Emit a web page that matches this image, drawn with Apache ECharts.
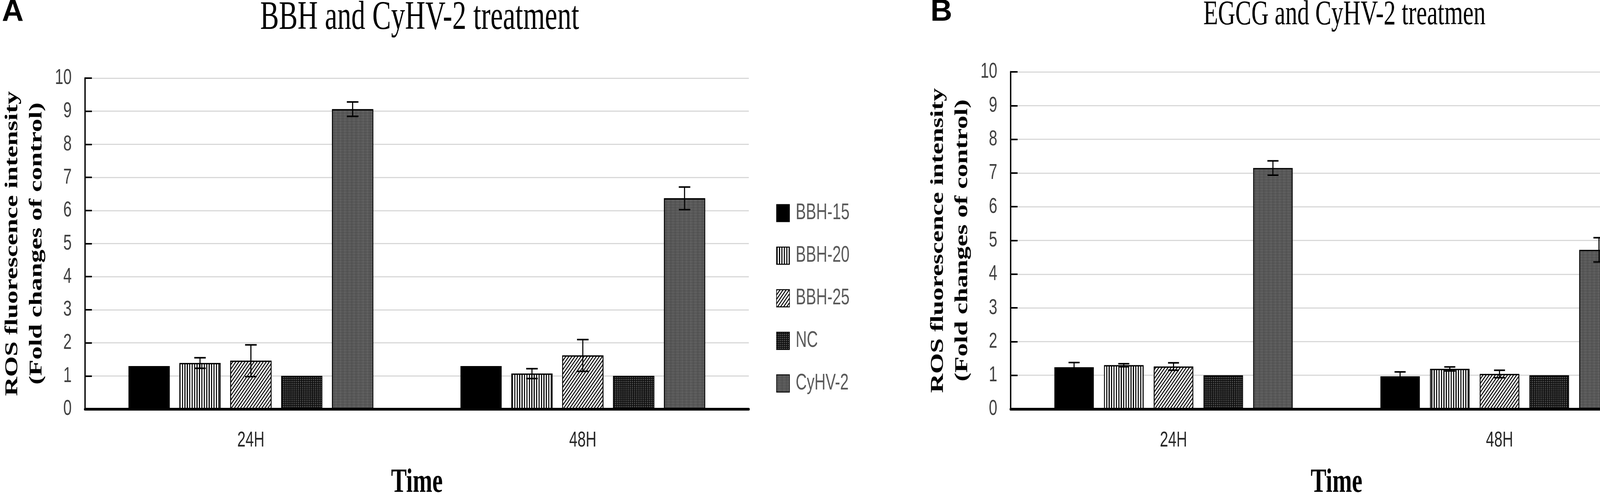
<!DOCTYPE html>
<html>
<head>
<meta charset="utf-8">
<script src="https://cdn.jsdelivr.net/npm/echarts@6/dist/echarts.min.js"></script>
<style>
  html, body { margin: 0; padding: 0; overflow: hidden; background: #fff; }
  /* the source figure is squeezed horizontally, so draw wide and squeeze */
  #container { width: 6594px; height: 1285px; transform: scaleX(0.69002); transform-origin: 0 0; }
</style>
</head>
<body>
<div id="container"></div>
<script>
var SQUEEZE = 4550 / 6594;

var timeLabels = ['24H', '48H'];

// panel A
var bbhNames = ['BBH-15', 'BBH-20', 'BBH-25', 'NC', 'CyHV-2'];
var bbhMeans = [[1.30, 1.30], [1.39, 1.07], [1.46, 1.62], [1.00, 1.00], [9.06, 6.37]];
var bbhErrors = [[0, 0], [0.16, 0.15], [0.48, 0.48], [0, 0], [0.22, 0.34]];

// panel B
var egcgNames = ['EGCG-10', 'EGCG-20', 'EGCG-30', 'NC', 'CyHV-2'];
var egcgMeans = [[1.24, 0.97], [1.30, 1.19], [1.26, 1.04], [1.00, 1.00], [7.15, 4.72]];
var egcgErrors = [[0.14, 0.13], [0.045, 0.06], [0.11, 0.11], [0, 0], [0.21, 0.36]];

var yTitle = 'ROS fluorescence intensity\n(Fold changes of control)';
var xTitle = 'Time';

// fill pattern for the 5 bars of each group
var fills = [
	{ color: '#000' },
	{ color: '#fff', decal: { symbol: 'rect', symbolSize: 1, symbolKeepAspect: false, color: '#000',
		dashArrayX: [4, 5], dashArrayY: [10, 0] } },
	{ color: '#fff', decal: { symbol: 'rect', symbolSize: 1, symbolKeepAspect: false, color: '#000',
		dashArrayX: [10, 0], dashArrayY: [3, 5], rotation: -Math.PI / 4 } },
	{ color: '#0d0d0d', decal: { symbol: 'rect', symbolSize: 1, symbolKeepAspect: false, color: '#9a9a9a',
		dashArrayX: [3, 4], dashArrayY: [2, 3] } },
	{ color: '#3a3a3a', decal: { symbol: 'rect', symbolSize: 1, symbolKeepAspect: false, color: '#b5b5b5',
		dashArrayX: [2, 2], dashArrayY: [2, 2] } }
];

var panels = [
	{ names: bbhNames, means: bbhMeans, errors: bbhErrors, barPct: 0.1242, gapPct: 0.234,
		grid: { left: 314, right: 3816, top: 200, bottom: 225 },
		legend: { left: 2880, top: 517 } },
	{ names: egcgNames, means: egcgMeans, errors: egcgErrors, barPct: 0.121, gapPct: 0.26,
		grid: { left: 3749, right: 426, top: 184, bottom: 225 },
		legend: { left: 6274, top: 512 } }
];

function errorRender(barPct, gapPct) {
	return function (params, api) {
		var cat = api.value(0), mean = api.value(1), err = api.value(2), idx = api.value(3);
		var band = api.size([1, 0])[0];
		var barW = band * barPct;
		var step = barW * (1 + gapPct);
		var x = api.coord([cat, mean])[0] + (idx - 2) * step;
		var yTop = api.coord([cat, mean + err])[1];
		var yBot = api.coord([cat, mean - err])[1];
		var cap = barW * 0.14;
		var st = { stroke: '#000', lineWidth: 4 };
		return {
			type: 'group',
			children: [
				{ type: 'line', shape: { x1: x, y1: yTop, x2: x, y2: yBot }, style: st },
				{ type: 'line', shape: { x1: x - cap, y1: yTop, x2: x + cap, y2: yTop }, style: st },
				{ type: 'line', shape: { x1: x - cap, y1: yBot, x2: x + cap, y2: yBot }, style: st }
			]
		};
	};
}

var grids = [], xAxes = [], yAxes = [], legends = [], series = [];

panels.forEach(function (p, pi) {
	grids.push(p.grid);
	xAxes.push({
		type: 'category',
		gridIndex: pi,
		data: timeLabels,
		name: xTitle,
		nameLocation: 'middle',
		nameGap: 146,
		nameTextStyle: { fontFamily: 'Liberation Serif', fontWeight: 'bold', fontSize: 87, color: '#000' },
		axisLine: { lineStyle: { color: '#000', width: 7 } },
		axisTick: { inside: true, length: 19, lineStyle: { color: '#000', width: 4 } },
		axisLabel: { margin: 53, fontFamily: 'Liberation Sans', fontSize: 55, color: '#262626' },
		splitLine: { show: false }
	});
	yAxes.push({
		type: 'value',
		gridIndex: pi,
		min: 0,
		max: 10,
		interval: 1,
		name: yTitle,
		nameLocation: 'middle',
		nameRotate: 90,
		nameGap: 134,
		nameTextStyle: { fontFamily: 'Liberation Serif', fontWeight: 'bold', fontSize: 68, lineHeight: 90, color: '#000' },
		axisLine: { show: true, lineStyle: { color: '#000', width: 5 } },
		axisTick: { show: true, inside: true, length: 26, lineStyle: { color: '#000', width: 4 } },
		axisLabel: { margin: 49, fontFamily: 'Liberation Sans', fontSize: 56, color: '#404040' },
		splitLine: { lineStyle: { color: '#d9d9d9', width: 3 } }
	});
	legends.push({
		orient: 'vertical',
		left: p.legend.left,
		top: p.legend.top,
		padding: 0,
		itemWidth: 48,
		itemHeight: 44,
		itemGap: 52,
		icon: 'rect',
		selectedMode: false,
		data: p.names,
		textStyle: { fontFamily: 'Liberation Sans', fontSize: 57, color: '#595959', padding: [0, 0, 0, 18] }
	});
	var errData = [];
	p.names.forEach(function (name, si) {
		series.push({
			name: name,
			type: 'bar',
			xAxisIndex: pi,
			yAxisIndex: pi,
			barWidth: (p.barPct * 100) + '%',
			barGap: (p.gapPct * 100) + '%',
			itemStyle: Object.assign({ borderColor: '#000', borderWidth: 3 }, fills[si]),
			data: p.means[si]
		});
		p.errors[si].forEach(function (e, ci) {
			if (e > 0) errData.push([ci, p.means[si][ci], e, si]);
		});
	});
	series.push({
		type: 'custom',
		xAxisIndex: pi,
		yAxisIndex: pi,
		renderItem: errorRender(p.barPct, p.gapPct),
		encode: { x: 0, y: 1 },
		z: 5,
		data: errData
	});
});

var dom = document.getElementById('container');
var myChart = echarts.init(dom);

var option = {
	animation: false,
	backgroundColor: '#fff',
	title: [{
		text: 'BBH and CyHV-2 treatment',
		left: 1557,
		top: 47,
		padding: 0,
		textAlign: 'center',
		textVerticalAlign: 'middle',
		textStyle: { fontFamily: 'Liberation Serif', fontWeight: 'normal', fontSize: 104, color: '#000' }
	}, {
		text: 'EGCG and CyHV-2 treatmen',
		left: 4988,
		top: 39,
		padding: 0,
		textAlign: 'center',
		textVerticalAlign: 'middle',
		textStyle: { fontFamily: 'Liberation Serif', fontWeight: 'normal', fontSize: 89, color: '#000' }
	}],
	// panel letters are not squeezed in the source, so undo the squeeze for them
	graphic: [{
		type: 'text', x: 7, y: 33, scaleX: 1 / SQUEEZE,
		style: { text: 'A', font: 'bold 77px "Liberation Sans"', fill: '#000', verticalAlign: 'middle' }
	}, {
		type: 'text', x: 3452, y: 32, scaleX: 1 / SQUEEZE,
		style: { text: 'B', font: 'bold 77px "Liberation Sans"', fill: '#000', verticalAlign: 'middle' }
	}],
	legend: legends,
	grid: grids,
	xAxis: xAxes,
	yAxis: yAxes,
	series: series
};

myChart.setOption(option);
</script>
</body>
</html>
